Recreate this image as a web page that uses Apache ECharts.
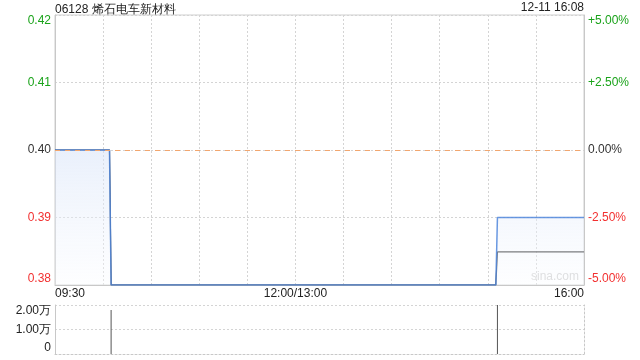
<!DOCTYPE html>
<html>
<head>
<meta charset="utf-8">
<script src="https://cdn.jsdelivr.net/npm/echarts@6/dist/echarts.min.js"></script>
<style>html,body{margin:0;padding:0;background:#fff}#c{width:640px;height:360px}</style>
</head>
<body>
<div id="c"></div>
<script>
const titleText = "06128 烯石电车新材料";
const dateText = "12-11 16:08";
const prevClose = 0.40;
const priceTimes = ["09:30", "10:04", "10:05", "15:05", "15:06", "16:00"];
const priceValues = [0.40, 0.40, 0.38, 0.38, 0.39, 0.39];
const avgValues = [0.40, 0.40, 0.38, 0.38, 0.3849, 0.3849];
const volTimes = ["10:05", "15:06"];
const volValues = [18000, 20000];
const xLabelMap = {0: "09:30", 150: "12:00/13:00", 330: "16:00"};

function toIdx(t) {
  const [h, m] = t.split(":").map(Number);
  let mins = h * 60 + m - (9 * 60 + 30);
  if (h * 60 + m >= 13 * 60) mins -= 60;
  return mins;
}
const priceData = priceTimes.map((t, i) => [toIdx(t), priceValues[i]]);
const avgData = priceTimes.map((t, i) => [toIdx(t), avgValues[i]]);
const volData = volTimes.map((t, i) => [toIdx(t), volValues[i]]);

const GREEN = "#1aa31a", RED = "#f23030", DARK = "#333";
function colorFor(v) {
  if (Math.abs(v - prevClose) < 1e-9) return DARK;
  return v > prevClose ? GREEN : RED;
}
const font = "Liberation Sans, Arial, sans-serif";

const chart = echarts.init(document.getElementById('c'), null, {renderer: 'canvas'});
chart.setOption({
  animation: false,
  textStyle: {fontFamily: font},
  grid: [
    {left: 55, right: 56, top: 15, height: 270, containLabel: false, show: true, borderColor: '#cfcfcf', borderWidth: 1},
    {left: 55, right: 56, top: 305, height: 49, containLabel: false}
  ],
  graphic: [
    {type: 'text', left: 55, top: 4, style: {text: titleText, fontSize: 12, fill: '#222', fontFamily: font}},
    {type: 'text', right: 56, top: 2, style: {text: dateText, fontSize: 12, fill: '#222', fontFamily: font}},
    {type: 'text', left: 531, top: 271, style: {text: 'sina.com', fontSize: 12, fill: '#d0d0d0', fontFamily: font}}
  ],
  xAxis: [
    {
      type: 'value', gridIndex: 0, min: 0, max: 330, interval: 30,
      axisLine: {show: true, lineStyle: {color: '#c8c8c8'}},
      axisTick: {show: false},
      splitLine: {show: true, lineStyle: {color: '#d4d4d4', type: [2, 2]}},
      axisLabel: {
        show: true, color: '#222', fontSize: 12, margin: 3,
        alignMinLabel: 'left', alignMaxLabel: 'right',
        formatter: v => xLabelMap[v] || ''
      }
    },
    {
      type: 'value', gridIndex: 1, min: 0, max: 330, interval: 30,
      axisLine: {show: true, lineStyle: {color: '#c8c8c8', type: [2, 2]}},
      axisTick: {show: false},
      splitLine: {show: false},
      axisLabel: {show: false}
    }
  ],
  yAxis: [
    {
      type: 'value', gridIndex: 0, min: 0.38, max: 0.42, interval: 0.01, position: 'left',
      axisLine: {show: true, lineStyle: {color: '#c8c8c8'}},
      axisTick: {show: false},
      splitLine: {show: true, lineStyle: {color: '#d4d4d4', type: [2, 2]}},
      axisLabel: {
        fontSize: 12, margin: 4,
        verticalAlignMinLabel: 'bottom', verticalAlignMaxLabel: 'top',
        formatter: v => v.toFixed(2),
        color: v => colorFor(Number(v))
      }
    },
    {
      type: 'value', gridIndex: 0, min: 0.38, max: 0.42, interval: 0.01, position: 'right',
      axisLine: {show: true, lineStyle: {color: '#c8c8c8'}},
      axisTick: {show: false},
      splitLine: {show: false},
      axisLabel: {
        fontSize: 12, margin: 4,
        verticalAlignMinLabel: 'bottom', verticalAlignMaxLabel: 'top',
        formatter: v => {
          const p = (v - prevClose) / prevClose * 100;
          if (Math.abs(p) < 1e-9) return '0.00%';
          return (p > 0 ? '+' : '') + p.toFixed(2) + '%';
        },
        color: v => colorFor(Number(v))
      }
    },
    {
      type: 'value', gridIndex: 1, min: 0, max: 20000, interval: 10000, position: 'left',
      axisLine: {show: true, lineStyle: {color: '#c8c8c8'}},
      axisTick: {show: false},
      splitLine: {show: true, lineStyle: {color: '#d4d4d4', type: [2, 2]}},
      axisLabel: {
        fontSize: 12, margin: 4, color: '#222',
        verticalAlignMinLabel: 'bottom', verticalAlignMaxLabel: 'top',
        formatter: v => v === 0 ? '0' : (v / 10000).toFixed(2) + '万'
      }
    },
    {
      type: 'value', gridIndex: 1, min: 0, max: 20000, interval: 10000, position: 'right',
      axisLine: {show: true, lineStyle: {color: '#c8c8c8', type: [2, 2]}},
      axisTick: {show: false}, splitLine: {show: false}, axisLabel: {show: false}
    }
  ],
  series: [
    {
      type: 'line', xAxisIndex: 0, yAxisIndex: 0, data: avgData, symbol: 'none',
      lineStyle: {color: '#2f2f2f', width: 1.2}, z: 2,
      markLine: {
        silent: true, symbol: 'none', label: {show: false},
        lineStyle: {color: '#f2a66e', type: [5, 5], width: 1},
        data: [{yAxis: prevClose}]
      }
    },
    {
      type: 'line', xAxisIndex: 0, yAxisIndex: 0, data: priceData, symbol: 'none',
      lineStyle: {color: '#4f86dc', width: 1.5, opacity: 0.85}, z: 3,
      areaStyle: {
        origin: 'start',
        color: new echarts.graphic.LinearGradient(0, 0, 0, 1, [
          {offset: 0, color: 'rgba(214,226,248,0.75)'},
          {offset: 1, color: 'rgba(250,252,255,0.5)'}
        ])
      }
    },
    {
      type: 'bar', xAxisIndex: 1, yAxisIndex: 2, data: volData, barWidth: 1,
      itemStyle: {color: '#555'}
    }
  ]
});
</script>
</body>
</html>
